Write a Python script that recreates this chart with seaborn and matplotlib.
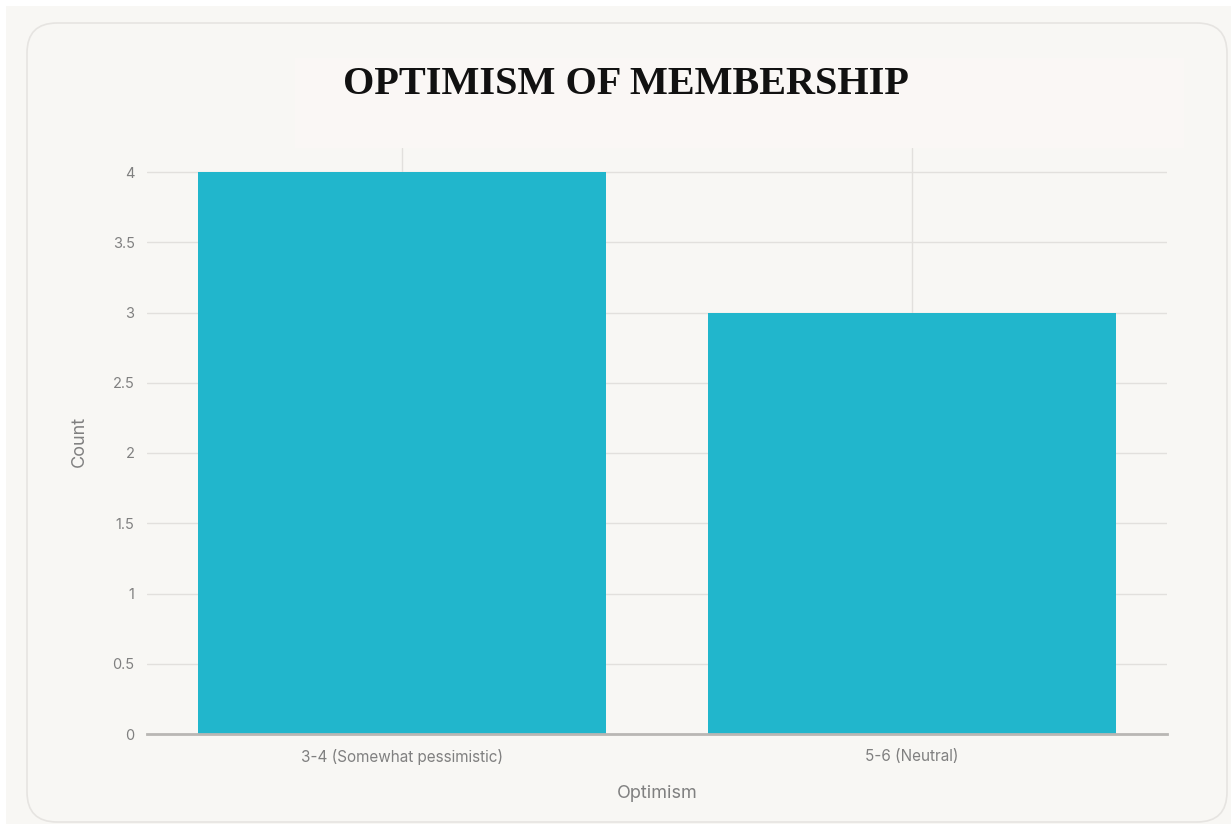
import matplotlib
matplotlib.use("Agg")
import matplotlib.pyplot as plt
import matplotlib.patches as mpatches
from matplotlib.transforms import IdentityTransform
import seaborn as sns
import pandas as pd

# Data
categories = ["3-4 (Somewhat pessimistic)", "5-6 (Neutral)"]
counts = [4, 3]
y_ticks = [0, 0.5, 1, 1.5, 2, 2.5, 3, 3.5, 4]
y_tick_labels = ["0", "0.5", "1", "1.5", "2", "2.5", "3", "3.5", "4"]

title_text = "OPTIMISM OF MEMBERSHIP"
x_label = "Optimism"
y_label = "Count"

BG = "#f8f7f4"
BAR = "#21b6cc"
GRID = "#e2e0dd"
TEXT = "#808080"

sns.set_theme(style="white")
plt.rcParams["font.family"] = ["Inter", "DejaVu Sans"]

W, H = 1231, 824
fig = plt.figure(figsize=(W / 100, H / 100), dpi=100)
fig.patch.set_facecolor(BG)

# thin white margin at the top and left
fig.patches.append(mpatches.Rectangle((0, H - 6), W, 6, transform=IdentityTransform(),
                                      facecolor="white", edgecolor="none", zorder=-2))
fig.patches.append(mpatches.Rectangle((0, 0), 6, H, transform=IdentityTransform(),
                                      facecolor="white", edgecolor="none", zorder=-2))

# rounded card
card = mpatches.FancyBboxPatch((27, H - 822), 1200, 799,
                               boxstyle="round,pad=0,rounding_size=30",
                               transform=IdentityTransform(),
                               facecolor=BG, edgecolor="#e6e4e1", linewidth=1.2, zorder=-1)
fig.patches.append(card)

# plot area
left, right, top_px, bottom_px = 147, 1167, 148, 734
ax = fig.add_axes([left / W, (H - bottom_px) / H, (right - left) / W, (bottom_px - top_px) / H])
ax.set_facecolor("none")

df = pd.DataFrame({"Optimism": categories, "Count": counts})
sns.barplot(data=df, x="Optimism", y="Count", color=BAR, saturation=1, width=0.8,
            ax=ax, zorder=3, edgecolor="none")

ax.set_xlim(-0.5, 1.5)
ax.set_ylim(0, (bottom_px - top_px) / 140.5)
ax.set_yticks(y_ticks)
ax.set_yticklabels(y_tick_labels)

ax.grid(True, axis="both", color=GRID, linewidth=1, zorder=0)
ax.set_axisbelow(True)
for s in ["top", "right", "left"]:
    ax.spines[s].set_visible(False)
ax.spines["bottom"].set_color("#b9b7b4")
ax.spines["bottom"].set_linewidth(2)
ax.spines["bottom"].set_zorder(4)

ax.tick_params(axis="y", length=6, width=1, color="#dcdad7", pad=3, labelsize=10.5, labelcolor=TEXT)
ax.tick_params(axis="x", length=4, width=1, color="#dcdad7", pad=7, labelsize=11, labelcolor=TEXT)

ax.set_xlabel(x_label, fontsize=13, color=TEXT, labelpad=14)
ax.set_ylabel(y_label, fontsize=13, color=TEXT, labelpad=18)

# title panel
fig.patches.append(mpatches.Rectangle((295, H - 148), 889, 90, transform=IdentityTransform(),
                                      facecolor="#fbf8f6", edgecolor="none", alpha=0.9, zorder=5))
fig.text(626 / W, 1 - 84 / H, title_text, ha="center", va="center",
         fontsize=29, fontweight="bold", color="#111111",
         family=["Liberation Serif", "DejaVu Serif"], zorder=6)

fig.savefig("out.png", dpi=100, facecolor=BG)
